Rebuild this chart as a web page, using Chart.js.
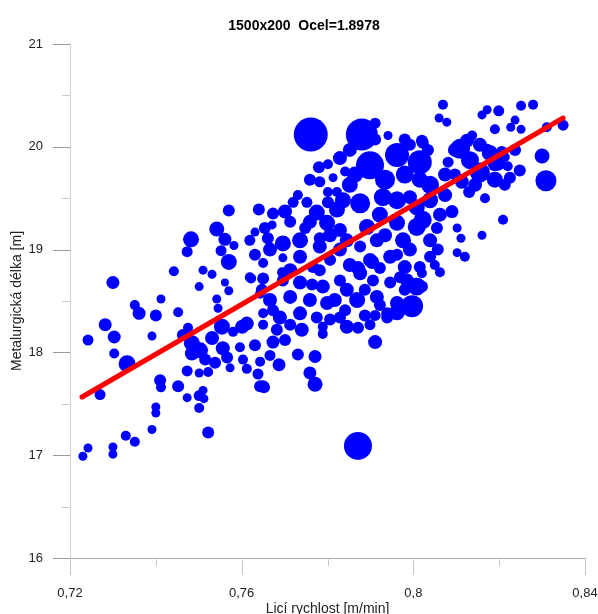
<!DOCTYPE html>
<html>
<head>
<meta charset="utf-8">
<script src="https://cdn.jsdelivr.net/npm/chart.js@4"></script>
<style>
  html, body { margin: 0; padding: 0; background: #fff; }
  #wrap { width: 598px; height: 614px; }
</style>
</head>
<body>
<div id="wrap"><canvas id="chart1"></canvas></div>
<script>
// Licí rychlost [m/min]
var speed = [
  0.723, 0.7242, 0.730, 0.730, 0.733, 0.7351, 0.7391, 0.740, 0.740, 0.727,
  0.7452, 0.7473, 0.7501, 0.751, 0.7512, 0.7501, 0.7522, 0.7643, 0.7652, 0.741,
  0.7412, 0.7473, 0.7501, 0.7522, 0.7538, 0.7566, 0.7573, 0.7603, 0.7596, 0.7601,
  0.730, 0.7501, 0.7561, 0.757, 0.7351, 0.7361, 0.7412, 0.740, 0.7452, 0.7542,
  0.7545, 0.7282, 0.7303, 0.7242, 0.7391, 0.7303, 0.7333, 0.7475, 0.7484, 0.7503,
  0.7531, 0.7554, 0.7556, 0.7484, 0.7515, 0.7463,
  0.757, 0.7542, 0.7482, 0.7473, 0.7561, 0.7582, 0.7552, 0.757, 0.7442, 0.751,
  0.7531, 0.7612, 0.758, 0.765, 0.7673, 0.7643, 0.7622, 0.765, 0.765, 0.7643,
  0.7612, 0.7638, 0.765, 0.7687, 0.7666, 0.7673, 0.7731, 0.7771, 0.7759, 0.7771,
  0.7789, 0.7789, 0.774, 0.7911, 0.7871, 0.7899, 0.7871, 0.7845, 0.7911, 0.7939,
  0.7962, 0.7997, 0.802, 0.798,
  0.7761, 0.788, 0.7911, 0.7941, 0.7829, 0.778, 0.7801, 0.7841, 0.7759, 0.7782,
  0.7813, 0.7899, 0.7962, 0.8015, 0.7801, 0.7822, 0.7801, 0.764, 0.7673, 0.772,
  0.7731, 0.7752, 0.7631, 0.7619, 0.7671, 0.765, 0.7696, 0.7619, 0.7694, 0.7782,
  0.7904, 0.7922, 0.7962, 0.7871, 0.7969,
  0.8069, 0.8172, 0.816, 0.8199, 0.8251, 0.8279, 0.806, 0.8078, 0.8237, 0.8227,
  0.8251, 0.819, 0.8311, 0.8349, 0.802, 0.8125, 0.8109, 0.8172, 0.8206, 0.8213,
  0.830, 0.8309, 0.8167, 0.8209, 0.809, 0.8102, 0.8111, 0.816, 0.8102, 0.812,
  0.813, 0.822, 0.8057, 0.805, 0.8062, 0.802, 0.8081, 0.8197, 0.8178, 0.8155,
  0.8137, 0.8022, 0.8034, 0.8132, 0.819, 0.8113, 0.8213, 0.8248,
  0.7775, 0.7799, 0.7822, 0.7852, 0.7836, 0.7876, 0.7929, 0.7962, 0.7992, 0.8008,
  0.8022, 0.7892, 0.7962, 0.8008, 0.7915, 0.7976, 0.8039, 0.8055, 0.7876, 0.7829,
  0.7782, 0.7736, 0.7696, 0.7666, 0.7736, 0.7766, 0.7806, 0.7852, 0.7899, 0.7946,
  0.798, 0.8015, 0.8039, 0.7696, 0.7736, 0.7789, 0.7845, 0.7876, 0.7906, 0.7946,
  0.7985, 0.8008, 0.7869, 0.7915, 0.7962, 0.7666, 0.7713, 0.7759, 0.7799, 0.7829,
  0.7775, 0.7736, 0.7689, 0.7682, 0.7939, 0.7654, 0.7713, 0.7748, 0.798, 0.7934,
  0.8039, 0.8074,
  0.7631, 0.7661, 0.7701, 0.7759, 0.7806, 0.7845, 0.7647, 0.7713, 0.7764, 0.7817,
  0.7841, 0.7713, 0.7631, 0.7701, 0.7806, 0.7782, 0.7829, 0.7887, 0.7922, 0.7887,
  0.7852, 0.7922, 0.7829, 0.8039, 0.7864, 0.798, 0.8015, 0.8074, 0.8062, 0.7934,
  0.7992, 0.7911, 0.7992, 0.8097, 0.8155, 0.819, 0.8144, 0.8097, 0.8237, 0.8225
];

// Metalurgická délka [m]
var metLength = [
  16.99, 17.07, 17.08, 17.01, 17.19, 17.13, 17.25, 17.47, 17.41, 17.59,
  17.67, 17.56, 17.58, 17.63, 17.55, 17.46, 17.22, 17.67, 17.66, 17.73,
  17.66, 17.82, 17.80, 17.81, 17.90, 17.95, 17.85, 17.93, 18.05, 18.25,
  18.68, 18.64, 18.68, 18.60, 18.46, 18.38, 18.52, 18.36, 18.39, 18.52,
  18.43, 18.27, 18.15, 18.12, 18.16, 17.99, 17.89, 18.24, 18.09, 18.02,
  18.14, 18.25, 18.04, 17.99, 17.93, 18.17,
  19.38, 19.20, 19.10, 18.98, 19.10, 19.04, 18.99, 18.88, 18.79, 18.80,
  18.76, 18.28, 18.20, 18.27, 18.41, 18.57, 18.72, 18.72, 18.38, 17.91,
  17.84, 17.79, 17.67, 17.88, 17.97, 18.10, 17.98, 17.96, 17.80, 17.69,
  18.18, 18.25, 18.22, 18.10, 17.09, 18.27, 18.24, 18.25, 18.36, 18.34,
  18.39, 18.45, 18.64, 18.61,
  20.12, 20.12, 20.23, 20.11, 19.89, 19.80, 19.83, 19.76, 19.68, 19.66,
  19.70, 19.82, 19.92, 19.85, 19.56, 19.56, 19.46, 19.39, 19.35, 19.46,
  19.53, 19.46, 19.17, 19.09, 19.24, 18.87, 18.92, 18.73, 18.78, 19.11,
  18.88, 18.82, 18.95, 18.82, 18.73,
  20.41, 20.36, 20.31, 20.35, 20.40, 20.41, 20.28, 20.24, 20.26, 20.19,
  20.17, 20.17, 20.19, 20.21, 20.06, 20.06, 19.98, 19.98, 19.95, 19.90,
  19.91, 19.67, 19.50, 19.29, 19.37, 19.21, 19.11, 19.14, 18.97, 18.93,
  19.56, 19.81, 19.00, 18.85, 18.78, 18.77, 19.85, 19.84, 19.94, 19.75,
  20.11, 20.04, 19.97, 19.87, 19.68, 19.66, 19.63, 19.77,
  19.36, 19.26, 19.39, 19.63, 19.48, 19.45, 19.51, 19.48, 19.51, 19.41,
  19.29, 19.22, 19.26, 19.22, 19.09, 19.09, 19.09, 19.21, 19.03, 19.00,
  19.03, 19.09, 19.06, 19.00, 18.93, 18.83, 18.90, 18.85, 18.90, 18.93,
  18.83, 18.83, 18.93, 18.70, 18.68, 18.64, 18.61, 18.77, 18.70, 18.68,
  18.70, 18.64, 18.51, 18.54, 18.48, 18.51, 18.54, 18.51, 18.48, 18.34,
  18.34, 18.38, 18.34, 18.22, 18.38, 19.21, 19.27, 19.21, 20.07, 19.68,
  19.63, 19.73,
  18.95, 19.11, 19.37, 19.27, 19.14, 19.09, 18.61, 18.80, 18.66, 18.51,
  18.41, 18.27, 18.07, 18.12, 18.32, 18.80, 18.70, 18.61, 18.46, 18.36,
  19.97, 19.34, 19.19, 19.48, 19.73, 19.73, 19.68, 19.53, 19.34, 19.14,
  19.00, 20.07, 20.02, 19.97, 20.02, 19.83, 19.63, 19.73, 19.97, 19.70
];

// velikost bubliny (px)
var bubbleSize = [
  4.5, 4.5, 4.5, 4.5, 5, 5, 4.5, 4.5, 4.5, 5.5,
  6, 4.5, 5.5, 4.5, 4.5, 5, 6, 6, 6, 6,
  5, 5.5, 4.5, 5, 6, 6, 4.5, 5, 5, 7,
  6.5, 4.5, 4, 4.5, 5, 6.5, 4.5, 6, 5, 4.5,
  4.5, 6.5, 6.5, 5.5, 4.5, 5, 8.5, 5, 8, 8,
  7, 8, 7, 7, 6, 6,
  6, 7.5, 8, 5.5, 6.5, 4.5, 5.5, 8, 5, 4.5,
  4.5, 7, 5, 5, 6, 5, 5, 6, 5, 5,
  5, 5.5, 6, 6.5, 5.5, 6.5, 6, 6.5, 6.5, 7.5,
  5, 5, 7, 7, 14, 5.5, 6, 7, 5.5, 6,
  8, 11, 6, 6,
  17, 16, 5.5, 4.5, 7, 6, 5, 5, 6, 5.5,
  4.5, 14, 12, 12, 5, 5, 6, 6, 6, 5.5,
  5, 5.5, 4.5, 5.5, 4.5, 5, 4.5, 5, 5, 6,
  7, 6, 6, 7, 6,
  5, 4.5, 4.5, 5.5, 5, 5, 4.5, 4.5, 4.5, 4.5,
  4.5, 5, 5, 5.5, 6, 7, 10, 5, 6, 5,
  7.5, 10.5, 5, 5, 6.5, 4.5, 4.5, 4.5, 4.5, 5,
  6, 5, 6, 5, 5, 5, 5.5, 7.5, 8, 10,
  5, 6, 6, 9, 8, 7, 6, 6,
  8, 8, 8, 8, 8, 10, 9, 9, 7, 8,
  9, 8, 8, 9, 7, 8, 7, 6, 6, 7,
  7, 8, 8, 7, 7, 6, 6, 7, 7, 7,
  7, 6, 6, 6, 7, 7, 7, 7, 6, 6,
  7, 9, 8, 7, 7, 7, 7, 7, 7, 6,
  6, 7, 7, 6, 6, 6, 6, 6, 6, 10,
  9, 7,
  6, 6, 7, 7, 7, 7, 6, 7, 6, 7,
  6, 6, 6, 6, 6, 6, 6, 6, 6, 6,
  7, 8, 7, 8, 8, 9, 8, 7, 7, 7,
  7, 6, 6, 7, 7, 7, 7, 6, 6, 6
];

// regresni primka
var fitX = [0.7228, 0.8349];
var fitY = [17.566, 20.28];

var xTicks = [0.72, 0.76, 0.80, 0.84];
var xTickLabels = ['0,72', '0,76', '0,8', '0,84'];
var yTicks = [16, 17, 18, 19, 20, 21];
var yTickLabels = ['16', '17', '18', '19', '20', '21'];

var fontFamily = '"Liberation Sans", Arial, sans-serif';

// tick marks drawn by hand: long majors, short minors in between
var tickMarks = {
    id: 'tickMarks',
    afterDraw: function(chart) {
        var ctx = chart.ctx;
        var xs = chart.scales.x, ys = chart.scales.y;
        var left = chart.chartArea.left, bottom = chart.chartArea.bottom;
        ctx.save();
        ctx.lineWidth = 1;
        yTicks.forEach(function(v, i) {
            var p = Math.round(ys.getPixelForValue(v)) + 0.5;
            ctx.strokeStyle = '#999';
            ctx.beginPath(); ctx.moveTo(left - 17, p); ctx.lineTo(left, p); ctx.stroke();
            if (i < yTicks.length - 1) {
                var m = Math.round(ys.getPixelForValue((v + yTicks[i + 1]) / 2)) + 0.5;
                ctx.strokeStyle = '#c8c8c8';
                ctx.beginPath(); ctx.moveTo(left - 8, m); ctx.lineTo(left, m); ctx.stroke();
            }
        });
        xTicks.forEach(function(v, i) {
            var p = Math.round(xs.getPixelForValue(v)) + 0.5;
            ctx.strokeStyle = '#c8c8c8';
            ctx.beginPath(); ctx.moveTo(p, bottom); ctx.lineTo(p, bottom + 17); ctx.stroke();
            if (i < xTicks.length - 1) {
                var m = Math.round(xs.getPixelForValue((v + xTicks[i + 1]) / 2)) + 0.5;
                ctx.beginPath(); ctx.moveTo(m, bottom); ctx.lineTo(m, bottom + 8); ctx.stroke();
            }
        });
        ctx.restore();
    }
};

var points = speed.map(function(s, i) {
    return { x: s, y: metLength[i], r: bubbleSize[i] };
});

var chart1Ctx = document.getElementById('chart1').getContext('2d');
var chart1 = new Chart(chart1Ctx, {
    type: 'bubble',
    data: {
        datasets: [{
            type: 'line',
            label: 'Regrese',
            data: fitX.map(function(x, i) { return { x: x, y: fitY[i] }; }),
            borderColor: '#ff0000',
            borderWidth: 5,
            borderCapStyle: 'round',
            pointRadius: 0,
            fill: false,
            order: 0
        }, {
            label: 'Tavby',
            data: points,
            backgroundColor: '#0000ff',
            borderWidth: 0,
            order: 1
        }]
    },
    options: {
        responsive: true,
        maintainAspectRatio: false,
        animation: false,
        layout: {
            autoPadding: false,
            padding: { left: 23, right: 13, top: 0, bottom: 0 }
        },
        plugins: {
            legend: { display: false },
            tooltip: { enabled: false },
            title: {
                display: true,
                text: '1500x200  Ocel=1.8978',
                color: '#000',
                font: { family: fontFamily, size: 14, weight: 'bold' },
                padding: { top: 18, bottom: 9.2 }
            }
        },
        scales: {
            x: {
                type: 'linear',
                min: 0.72,
                max: 0.84,
                afterBuildTicks: function(scale) {
                    scale.ticks = xTicks.map(function(v) { return { value: v }; });
                },
                afterFit: function(scale) {
                    scale.height = 56;
                    // labels at the ends may hang over, as in the original
                    scale.paddingLeft = 0;
                    scale.paddingRight = 0;
                },
                grid: { drawOnChartArea: false, drawTicks: true, tickLength: 17, color: 'rgba(0,0,0,0)' },
                border: { display: true, color: '#aaaaaa', width: 1 },
                ticks: {
                    padding: 11,
                    color: '#222',
                    font: { family: fontFamily, size: 13 },
                    maxRotation: 0,
                    callback: function(value, index) { return xTickLabels[index]; }
                },
                title: {
                    display: true,
                    text: 'Licí rychlost [m/min]',
                    color: '#222',
                    font: { family: fontFamily, size: 14, lineHeight: 1 },
                    padding: { top: 0, bottom: -2 }
                }
            },
            y: {
                type: 'linear',
                min: 16,
                max: 21,
                afterBuildTicks: function(scale) {
                    scale.ticks = yTicks.map(function(v) { return { value: v }; });
                },
                afterFit: function(scale) { scale.width = 47; },
                grid: { drawOnChartArea: false, drawTicks: true, tickLength: 17, color: 'rgba(0,0,0,0)' },
                border: { display: true, color: '#d0d0d0', width: 1 },
                ticks: {
                    padding: 10,
                    color: '#222',
                    font: { family: fontFamily, size: 13 },
                    callback: function(value, index) { return yTickLabels[index]; }
                },
                title: {
                    display: true,
                    text: 'Metalurgická délka [m]',
                    color: '#222',
                    font: { family: fontFamily, size: 14 },
                    padding: { top: -14.4, bottom: 0 }
                }
            }
        }
    },
    plugins: [tickMarks]
});
</script>
</body>
</html>
